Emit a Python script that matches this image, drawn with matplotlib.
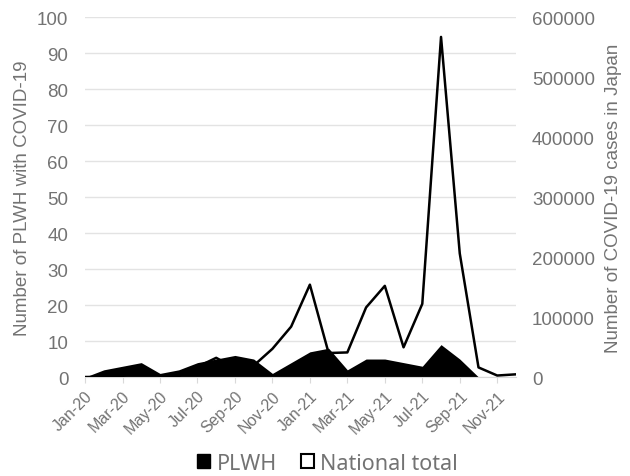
import matplotlib.pyplot as plt
from matplotlib.patches import Patch

months = ["Jan-20", "Feb-20", "Mar-20", "Apr-20", "May-20", "Jun-20",
          "Jul-20", "Aug-20", "Sep-20", "Oct-20", "Nov-20", "Dec-20",
          "Jan-21", "Feb-21", "Mar-21", "Apr-21", "May-21", "Jun-21",
          "Jul-21", "Aug-21", "Sep-21", "Oct-21", "Nov-21", "Dec-21"]
plwh = [0, 2, 3, 4, 1, 2, 4, 5, 6, 5, 1, 4,
        7, 8, 2, 5, 5, 4, 3, 9, 5, 0, 0, 0]
national = [14, 230, 1800, 12000, 2500, 1800, 17000, 32000, 15000, 19000, 47000, 84000,
            154000, 40000, 41000, 116000, 152000, 49500, 122000, 567000, 206000, 16000, 2500, 4500]

plt.rcParams['font.family'] = ['Liberation Sans', 'DejaVu Sans']
grey = '#737373'

fig, ax = plt.subplots(figsize=(6.3, 4.77), dpi=100)
fig.subplots_adjust(left=0.135, right=0.819, top=0.962, bottom=0.2075)
x = list(range(len(months)))

ax.fill_between(x, plwh, 0, color='black', lw=0, zorder=2)
ax.set_ylim(0, 100)
ax.set_yticks(range(0, 101, 10))
ax.set_xlim(0, len(months) - 1)
ax.set_xticks(x[::2])
ax.set_xticklabels(months[::2], rotation=45, ha='right', rotation_mode='anchor',
                   fontsize=11.5, color=grey)
ax.tick_params(axis='x', length=4, color='#d9d9d9', pad=4)
ax.tick_params(axis='y', length=0, labelsize=13.5, labelcolor=grey, pad=12)
ax.grid(axis='y', color='#e3e3e3', lw=1, zorder=0)
ax.set_axisbelow(True)
for s in ['top', 'left', 'right']:
    ax.spines[s].set_visible(False)
ax.spines['bottom'].set_color('#d9d9d9')
ax.set_ylabel("Number of PLWH with COVID-19", fontsize=13.5, color=grey, labelpad=4)

ax2 = ax.twinx()
ax2.plot(x, national, color='black', lw=1.8, zorder=3)
ax2.set_ylim(0, 600000)
ax2.set_yticks(range(0, 600001, 100000))
ax2.tick_params(axis='y', length=0, labelsize=13.5, labelcolor=grey, pad=11.5)
for s in ax2.spines.values():
    s.set_visible(False)
ax2.set_ylabel("Number of COVID-19 cases in Japan", fontsize=13.5, color=grey, labelpad=7)

handles = [Patch(facecolor='black', edgecolor='black', label='PLWH'),
           Patch(facecolor='white', edgecolor='black', lw=1.5, label='National total')]
fig.legend(handles=handles, loc='center', bbox_to_anchor=(0.52, 0.027), ncol=2,
           frameon=False, handlelength=0.6, handleheight=0.6,
           handletextpad=0.3, columnspacing=1.1, prop={'family': 'Noto Sans', 'size': 15.5},
           labelcolor=grey)

fig.savefig("out.png", dpi=100)
